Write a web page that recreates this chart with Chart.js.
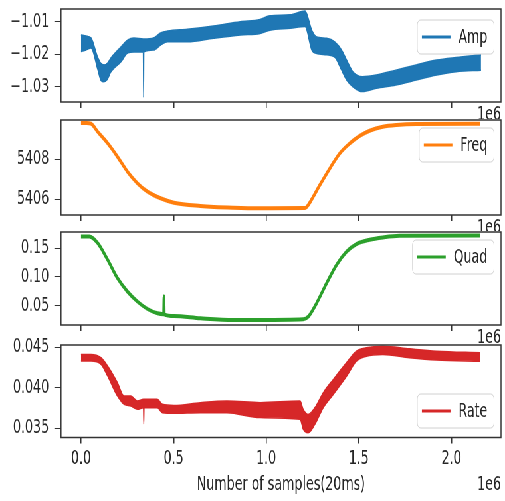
<!DOCTYPE html>
<html>
<head>
<meta charset="utf-8">
<script src="https://cdn.jsdelivr.net/npm/chart.js@4.4.1/dist/chart.umd.min.js"></script>
<style>
  html, body { margin: 0; padding: 0; background: #fff; overflow: hidden; }
  #fig { position: absolute; left: 0; top: 0; width: 760px; height: 501px; transform: scaleX(0.6645); transform-origin: 0 0; }
  #fig canvas { position: absolute; left: 0; }
</style>
</head>
<body>
<div id="fig">
  <canvas id="ampChart" width="760" height="119" style="top:0px"></canvas>
  <canvas id="freqChart" width="760" height="112" style="top:119px"></canvas>
  <canvas id="quadChart" width="760" height="113" style="top:231px"></canvas>
  <canvas id="rateChart" width="760" height="171" style="top:330px"></canvas>
</div>
<script>
// shared x axis, in units of 1e6 samples
const xTicks = [0, 0.5, 1.0, 1.5, 2.0];
const xTickLabels = ['0.0', '0.5', '1.0', '1.5', '2.0'];

// Amp: noisy band, top and bottom edge
const ampX  = [0.000, 0.027, 0.054, 0.090, 0.107, 0.124, 0.142, 0.161, 0.215, 0.253, 0.285, 0.336, 0.338, 0.340, 0.392, 0.430, 0.468, 0.575, 0.715, 0.860, 0.968, 1.020, 1.130, 1.210, 1.246, 1.270, 1.326, 1.370, 1.407, 1.434, 1.468, 1.520, 1.595, 1.700, 1.810, 1.920, 2.025, 2.160];
const ampHi = [-1.0141, -1.0144, -1.0150, -1.0209, -1.0228, -1.0233, -1.0228, -1.0212, -1.0178, -1.0156, -1.0150, -1.0153, -1.0153, -1.0153, -1.0150, -1.0135, -1.0129, -1.0123, -1.0113, -1.0100, -1.0093, -1.0082, -1.0079, -1.0067, -1.0126, -1.0146, -1.0151, -1.0162, -1.0187, -1.0218, -1.0254, -1.0269, -1.0264, -1.0249, -1.0233, -1.0218, -1.0210, -1.0202];
const ampLo = [-1.0192, -1.0187, -1.0181, -1.0246, -1.0280, -1.0285, -1.0278, -1.0255, -1.0224, -1.0196, -1.0193, -1.0193, -1.0333, -1.0193, -1.0187, -1.0172, -1.0162, -1.0162, -1.0151, -1.0141, -1.0136, -1.0126, -1.0120, -1.0115, -1.0187, -1.0197, -1.0202, -1.0209, -1.0249, -1.0279, -1.0300, -1.0315, -1.0305, -1.0295, -1.0279, -1.0264, -1.0254, -1.0249];
const ampTicks = [-1.03, -1.02, -1.01];
const ampTickLabels = ['\u22121.03', '\u22121.02', '\u22121.01'];

// Freq
const freqX = [0.000, 0.030, 0.054, 0.090, 0.144, 0.197, 0.251, 0.305, 0.359, 0.430, 0.502, 0.645, 0.823, 0.968, 1.210, 1.227, 1.254, 1.290, 1.344, 1.398, 1.452, 1.505, 1.559, 1.630, 1.703, 1.810, 2.156];
const freqY = [5409.82, 5409.82, 5409.78, 5409.38, 5408.80, 5408.13, 5407.38, 5406.80, 5406.38, 5406.05, 5405.83, 5405.67, 5405.58, 5405.55, 5405.56, 5405.72, 5406.13, 5406.72, 5407.55, 5408.30, 5408.80, 5409.17, 5409.43, 5409.63, 5409.72, 5409.77, 5409.78];
const freqTicks = [5406, 5408];
const freqTickLabels = ['5406', '5408'];

// Quad
const quadX = [0.000, 0.045, 0.090, 0.144, 0.197, 0.251, 0.305, 0.359, 0.413, 0.446, 0.448, 0.450, 0.502, 0.645, 0.823, 0.968, 1.200, 1.227, 1.272, 1.326, 1.380, 1.434, 1.487, 1.559, 1.630, 1.720, 2.156];
const quadY = [0.1700, 0.1700, 0.1587, 0.1296, 0.0977, 0.0744, 0.0570, 0.0442, 0.0367, 0.0352, 0.0657, 0.0350, 0.0320, 0.0280, 0.0250, 0.0250, 0.0262, 0.0308, 0.0542, 0.0890, 0.1210, 0.1440, 0.1570, 0.1645, 0.1685, 0.1714, 0.1720];
const quadTicks = [0.05, 0.10, 0.15];
const quadTickLabels = ['0.05', '0.10', '0.15'];

// Rate: noisy band
const rateX  = [0.000, 0.054, 0.108, 0.144, 0.197, 0.233, 0.269, 0.305, 0.337, 0.339, 0.341, 0.358, 0.412, 0.440, 0.502, 0.645, 0.788, 0.968, 1.183, 1.200, 1.227, 1.263, 1.308, 1.362, 1.434, 1.487, 1.541, 1.630, 1.774, 1.918, 2.156];
const rateHi = [0.04411, 0.04411, 0.04370, 0.04267, 0.04060, 0.03896, 0.03896, 0.03835, 0.03856, 0.03856, 0.03856, 0.03856, 0.03856, 0.03794, 0.03781, 0.03815, 0.03835, 0.03815, 0.03835, 0.03732, 0.03670, 0.03753, 0.03938, 0.04102, 0.04309, 0.04452, 0.04494, 0.04514, 0.04481, 0.04452, 0.04432];
const rateLo = [0.04329, 0.04329, 0.04288, 0.04143, 0.03896, 0.03794, 0.03773, 0.03732, 0.03753, 0.03547, 0.03753, 0.03753, 0.03753, 0.03691, 0.03683, 0.03691, 0.03691, 0.03630, 0.03609, 0.03485, 0.03444, 0.03547, 0.03753, 0.03917, 0.04143, 0.04328, 0.04390, 0.04411, 0.04370, 0.04341, 0.04328];
const rateTicks = [0.035, 0.040, 0.045];
const rateTickLabels = ['0.035', '0.040', '0.045'];

const FONT = '"DejaVu Sans", sans-serif';
Chart.defaults.font.family = FONT;
Chart.defaults.font.size = 19;
Chart.defaults.color = '#262626';

const pts = (xs, ys) => xs.map((x, i) => ({ x: x, y: ys[i] }));

// frame, offset text "1e6" and a matplotlib-like legend box
const figExtras = {
    id: 'figExtras',
    afterDatasetsDraw(chart, args, opts) {
        const { ctx, chartArea: a } = chart;
        ctx.save();
        ctx.strokeStyle = '#333';
        ctx.lineWidth = 1.5;
        ctx.strokeRect(a.left, a.top, a.right - a.left, a.bottom - a.top);

        ctx.fillStyle = '#262626';
        ctx.font = '19px ' + FONT;
        ctx.textBaseline = 'middle';
        ctx.textAlign = 'right';
        ctx.fillText('1e6', a.right, a.bottom + opts.offsetDy);

        ctx.textAlign = 'left';
        const tw = ctx.measureText(opts.label).width;
        const w = 7 + 43 + 12 + tw + 10;
        const h = 34;
        const bx = a.right - 10.5 - w;
        const by = opts.loc === 'lower' ? a.bottom - opts.pad - h : a.top + opts.pad;
        ctx.beginPath();
        ctx.roundRect(bx, by, w, h, 5);
        ctx.fillStyle = 'rgba(255,255,255,0.8)';
        ctx.fill();
        ctx.strokeStyle = '#d0d0d0';
        ctx.lineWidth = 1;
        ctx.stroke();
        ctx.beginPath();
        ctx.moveTo(bx + 7, by + h / 2);
        ctx.lineTo(bx + 50, by + h / 2);
        ctx.strokeStyle = opts.color;
        ctx.lineWidth = 3;
        ctx.stroke();
        ctx.fillStyle = '#262626';
        ctx.fillText(opts.label, bx + 62, by + h / 2 + 1);
        ctx.restore();
    }
};

function makeChart(id, cfg) {
    const ctx = document.getElementById(id).getContext('2d');
    return new Chart(ctx, {
        type: 'line',
        data: { datasets: cfg.datasets },
        options: {
            responsive: false,
            animation: false,
            events: [],
            layout: { padding: { top: cfg.padTop, right: 6, left: 0, bottom: 0 } },
            elements: { point: { radius: 0 }, line: { cubicInterpolationMode: 'monotone' } },
            plugins: {
                legend: { display: false },
                tooltip: { enabled: false },
                figExtras: { label: cfg.label, color: cfg.color, loc: cfg.loc, pad: cfg.legendPad, offsetDy: cfg.offsetDy }
            },
            scales: {
                x: {
                    type: 'linear', min: -0.108, max: 2.268,
                    afterBuildTicks: s => { s.ticks = xTicks.map(v => ({ value: v })); },
                    ticks: { display: cfg.xLabels, padding: 4.4, maxRotation: 0, autoSkip: false,
                             callback: v => xTickLabels[xTicks.indexOf(v)] },
                    grid: { drawOnChartArea: false, drawTicks: true, tickLength: 6, color: '#333', lineWidth: 1.5 },
                    border: { display: false },
                    title: { display: cfg.xLabels, text: 'Number of samples(20ms)', color: '#262626',
                             padding: { top: 0, bottom: 4.2 } },
                    afterFit: s => { s.height = cfg.xHeight; s.paddingLeft = 0; s.paddingRight = 0; }
                },
                y: {
                    min: cfg.yMin, max: cfg.yMax,
                    afterBuildTicks: s => { s.ticks = cfg.yTicks.map(v => ({ value: v })); },
                    ticks: { padding: 9, callback: v => cfg.yTickLabels[cfg.yTicks.indexOf(v)] },
                    grid: { drawOnChartArea: false, drawTicks: true, tickLength: 9, color: '#333', lineWidth: 1 },
                    border: { display: false },
                    afterFit: s => { s.width = 91.8; s.paddingTop = 0; s.paddingBottom = 0; }
                }
            }
        },
        plugins: [figExtras]
    });
}

function band(xs, hi, lo, color) {
    return [
        { data: pts(xs, hi), borderColor: color, backgroundColor: color, borderWidth: 1.5, fill: '+1' },
        { data: pts(xs, lo), borderColor: color, backgroundColor: color, borderWidth: 1.5, fill: false }
    ];
}

function line(xs, ys, color) {
    return [{ data: pts(xs, ys), borderColor: color, borderWidth: 4, fill: false }];
}

makeChart('ampChart', {
    datasets: band(ampX, ampHi, ampLo, '#1f77b4'),
    padTop: 9, xHeight: 17, yMin: -1.0347, yMax: -1.0061,
    yTicks: ampTicks, yTickLabels: ampTickLabels, xLabels: false,
    label: 'Amp', color: '#1f77b4', loc: 'upper', legendPad: 11, offsetDy: 13
});

makeChart('freqChart', {
    datasets: line(freqX, freqY, '#ff7f0e'),
    padTop: 1, xHeight: 16, yMin: 5405.215, yMax: 5409.965,
    yTicks: freqTicks, yTickLabels: freqTickLabels, xLabels: false,
    label: 'Freq', color: '#ff7f0e', loc: 'upper', legendPad: 8, offsetDy: 13
});

makeChart('quadChart', {
    datasets: line(quadX, quadY, '#2ca02c'),
    padTop: 1, xHeight: 19, yMin: 0.0164, yMax: 0.1779,
    yTicks: quadTicks, yTickLabels: quadTickLabels, xLabels: false,
    label: 'Quad', color: '#2ca02c', loc: 'upper', legendPad: 8, offsetDy: 13
});

makeChart('rateChart', {
    datasets: band(rateX, rateHi, rateLo, '#d62728'),
    padTop: 15, xHeight: 63.5, yMin: 0.03384, yMax: 0.04528,
    yTicks: rateTicks, yTickLabels: rateTickLabels, xLabels: true,
    label: 'Rate', color: '#d62728', loc: 'lower', legendPad: 9.5, offsetDy: 47.5
});
</script>
</body>
</html>
